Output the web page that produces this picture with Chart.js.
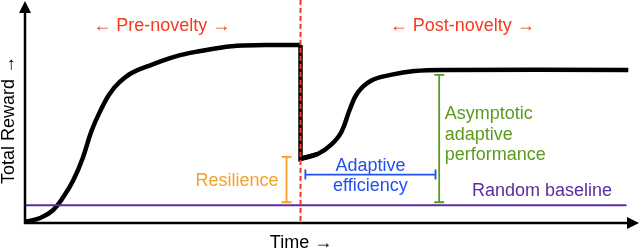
<!DOCTYPE html>
<html>
<head>
<meta charset="utf-8">
<script src="https://cdn.jsdelivr.net/npm/chart.js"></script>
<style>
  html, body { margin: 0; padding: 0; background: #fff; }
  #wrap { width: 640px; height: 249px; }
</style>
</head>
<body>
<div id="wrap"><canvas id="noveltyChart"></canvas></div>
<script>
// 곡선 데이터 (x: 시간, y: 보상, 0~100 단위)
const preTime   = [0, 2.5, 4.6, 6.3, 7.9, 9.5, 10.9, 12.3, 13.9, 15.5, 17.6, 20.9, 24.8, 28.6, 34.0, 39.5, 45.3];
const preReward = [0.5, 2.3, 5.9, 12.0, 19.5, 30.1, 42.3, 51.4, 59.7, 65.0, 69.5, 73.3, 77.1, 79.4, 81.8, 82.3, 82.3];

const postTime   = [45.4, 48.2, 50.3, 52.0, 53.4, 54.7, 56.9, 60.1, 64.0, 69.4, 99.2];
const postReward = [29.7, 32.0, 36.1, 42.0, 52.5, 60.3, 65.8, 68.5, 70.3, 70.8, 70.8];

const noveltyTime = 45.3;
const baselineReward = 8.2;
const baselineEnd = 98.9;

// 지표 (error bar 형태)
const resilience = { x: 43.0, low: 9.6, high: 30.6 };
const efficiency = { y: 22.4, start: 46.1, end: 67.5 };
const asymptotic = { x: 68.1, low: 9.6, high: 68.5 };

const toPts = (xs, ys) => xs.map((x, i) => ({ x: x, y: ys[i] }));

const FONT = '"Liberation Sans", Arial, Helvetica, sans-serif';

// 축, 화살표, 글자 그리는 플러그인
const annotate = {
  id: 'annotate',
  afterDatasetsDraw(chart) {
    const { ctx, chartArea: a, scales: { x, y } } = chart;
    ctx.save();
    // 축
    ctx.strokeStyle = '#000';
    ctx.fillStyle = '#000';
    ctx.lineWidth = 2.5;
    ctx.beginPath();
    ctx.moveTo(a.left, 12);
    ctx.lineTo(a.left, a.bottom);
    ctx.lineTo(628, a.bottom);
    ctx.stroke();
    ctx.beginPath();
    ctx.moveTo(a.left, 1);
    ctx.lineTo(a.left - 6, 13);
    ctx.lineTo(a.left + 6, 13);
    ctx.closePath();
    ctx.fill();
    ctx.beginPath();
    ctx.moveTo(639, a.bottom);
    ctx.lineTo(627, a.bottom - 6);
    ctx.lineTo(627, a.bottom + 6);
    ctx.closePath();
    ctx.fill();

    // 노벨티 시점 빨간 점선
    ctx.strokeStyle = '#f43a1e';
    ctx.lineWidth = 2;
    ctx.setLineDash([5, 3]);
    ctx.beginPath();
    ctx.moveTo(x.getPixelForValue(noveltyTime), 0);
    ctx.lineTo(x.getPixelForValue(noveltyTime), a.bottom);
    ctx.stroke();
    ctx.setLineDash([]);

    ctx.font = '18px ' + FONT;
    ctx.textBaseline = 'alphabetic';
    const txt = (s, vx, vy, color, align) => {
      ctx.fillStyle = color;
      ctx.textAlign = align;
      ctx.fillText(s, x.getPixelForValue(vx), y.getPixelForValue(vy));
    };
    txt('← Pre-novelty →', 22.5, 88.6, '#f43a1e', 'center');
    txt('← Post-novelty →', 71.9, 88.6, '#f43a1e', 'center');
    txt('Resilience', 41.7, 16.9, '#f5a027', 'right');
    txt('Adaptive', 56.8, 24.2, '#2050f2', 'center');
    txt('efficiency', 56.8, 14.6, '#2050f2', 'center');
    txt('Asymptotic', 69.0, 47.9, '#5c9a1f', 'left');
    txt('adaptive', 69.0, 38.4, '#5c9a1f', 'left');
    txt('performance', 69.0, 29.2, '#5c9a1f', 'left');
    txt('Random baseline', 73.5, 12.3, '#5b2d9e', 'left');

    // 축 제목
    ctx.fillStyle = '#000';
    ctx.textAlign = 'center';
    ctx.fillText('Time →', 301, 248);
    ctx.translate(14, 120);
    ctx.rotate(-Math.PI / 2);
    ctx.fillText('Total Reward →', 0, 0);
    ctx.restore();
  }
};

const barSet = (data, color, rot) => ({
  data: data,
  borderColor: color,
  backgroundColor: color,
  borderWidth: 1.8,
  pointStyle: 'line',
  pointRadius: 5,
  pointBorderWidth: 1.8,
  pointRotation: rot,
  tension: 0
});

const curveSet = (data, tension) => ({
  data: data,
  borderColor: '#000',
  borderWidth: 4.5,
  pointRadius: 0,
  tension: tension,
  borderJoinStyle: 'miter'
});

new Chart(document.getElementById('noveltyChart'), {
  type: 'line',
  data: {
    datasets: [
      {
        data: [{ x: 0, y: baselineReward }, { x: baselineEnd, y: baselineReward }],
        borderColor: '#5b2d9e',
        borderWidth: 2,
        pointRadius: 0
      },
      barSet([{ x: resilience.x, y: resilience.low }, { x: resilience.x, y: resilience.high }], '#f5a027', 0),
      barSet([{ x: efficiency.start, y: efficiency.y }, { x: efficiency.end, y: efficiency.y }], '#2050f2', 90),
      barSet([{ x: asymptotic.x, y: asymptotic.low }, { x: asymptotic.x, y: asymptotic.high }], '#5c9a1f', 0),
      curveSet(toPts(preTime, preReward), 0.4),
      // 노벨티 시점 급락
      curveSet([{ x: noveltyTime, y: preReward[preReward.length - 1] }, { x: noveltyTime, y: postReward[0] }, toPts(postTime, postReward)[1]], 0),
      curveSet(toPts(postTime, postReward), 0.4)
    ]
  },
  options: {
    responsive: true,
    maintainAspectRatio: false,
    animation: false,
    layout: { padding: { left: 25, right: 3, top: 3, bottom: 26 } },
    plugins: { legend: { display: false }, tooltip: { enabled: false } },
    scales: {
      x: { type: 'linear', min: 0, max: 100, display: false },
      y: { type: 'linear', min: 0, max: 100, display: false }
    }
  },
  plugins: [annotate]
});
</script>
</body>
</html>
